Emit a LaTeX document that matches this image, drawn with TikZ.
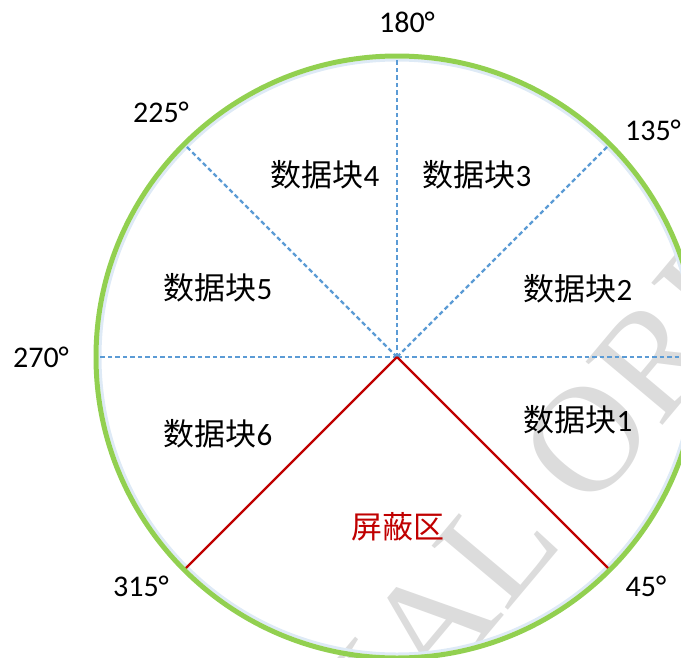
\documentclass[tikz,border=0pt]{standalone}
\usepackage{fontspec}
\setmainfont{Carlito}
\newfontfamily\cjk{Noto Sans CJK SC}
\newfontfamily\wmfont{Liberation Serif}
\definecolor{ringgreen}{RGB}{146,208,80}
\definecolor{dashblue}{RGB}{91,155,213}
\definecolor{shieldred}{RGB}{192,0,0}
\definecolor{wmgray}{RGB}{220,220,220}
\definecolor{glowblue}{RGB}{222,234,246}
\tikzset{
  bluedash/.style={draw=dashblue,line width=2.2pt,dash pattern=on 4.5pt off 3pt},
  redline/.style={draw=shieldred,line width=2.2pt},
  ring/.style={draw=ringgreen,line width=5pt},
  anglab/.style={inner sep=0pt,font=\fontsize{30}{36}\selectfont},
  blocklab/.style={inner sep=0pt,font=\fontsize{31}{36}\selectfont},
  wmark/.style={inner sep=0pt,text=wmgray,font=\wmfont\fontsize{152}{152}\selectfont,rotate=50}
}
\begin{document}
\begin{tikzpicture}[x=1pt,y=-1pt]
\useasboundingbox (0,0) rectangle (681,657);
% watermark
\node[wmark,anchor=base east] (wmA) at (505,614) {ORIGINA};
\node[wmark,anchor=base west] (wmB) at (505,614) {L ORIGINAL};
% geometry
\coordinate (c) at (397,357);
\coordinate (p45) at (609.8,569.8);
\coordinate (p90) at (698,357);
\coordinate (p135) at (609.8,144.2);
\coordinate (p180) at (397,56);
\coordinate (p225) at (184.2,144.2);
\coordinate (p270) at (96,357);
\coordinate (p315) at (184.2,569.8);
% inner glow
\draw[glowblue,line width=3pt] (c) circle (297pt);
% dashed sector lines
\draw[bluedash] (c) -- (p90);
\draw[bluedash] (c) -- (p270);
\draw[bluedash] (c) -- (p180);
\draw[bluedash] (c) -- (p135);
\draw[bluedash] (c) -- (p225);
% shield lines
\draw[redline] (c) -- (p45);
\draw[redline] (c) -- (p315);
% ring
\draw[ring] (c) circle (301pt);
% angle labels
\node[anglab] (a180) at (407,22) {180°};
\node[anglab] (a135) at (653,130) {135°};
\node[anglab] (a225) at (161,112) {225°};
\node[anglab] (a270) at (41,357) {270°};
\node[anglab] (a315) at (141,586) {315°};
\node[anglab] (a45) at (646,586) {45°};
% block labels
\node[blocklab] (b4) at (325,175) {{\cjk 数据块}4};
\node[blocklab] (b3) at (477,175) {{\cjk 数据块}3};
\node[blocklab] (b2) at (578,289) {{\cjk 数据块}2};
\node[blocklab] (b5) at (218,288) {{\cjk 数据块}5};
\node[blocklab] (b6) at (218,434) {{\cjk 数据块}6};
\node[blocklab] (b1) at (578,420) {{\cjk 数据块}1};
\node[blocklab,text=shieldred] (sh) at (398,527) {\cjk 屏蔽区};
\end{tikzpicture}
\end{document}
